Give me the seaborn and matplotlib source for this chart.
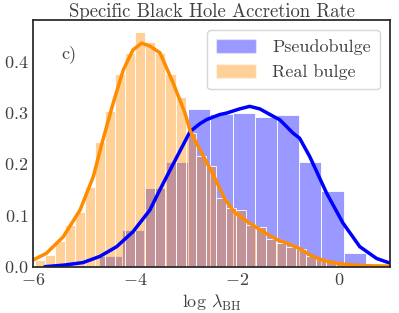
import numpy as np
import pandas as pd
import matplotlib
matplotlib.use("Agg")
import matplotlib.pyplot as plt
from matplotlib.patches import Patch
import seaborn as sns

# Histogram values (density)
pseudo_heights = [0.021, 0.072, 0.153, 0.203, 0.307, 0.297, 0.300, 0.291, 0.296, 0.203, 0.148, 0.027]
pseudo_range = (-4.70, 0.53)

real_heights = [0.013, 0.023, 0.049, 0.081, 0.107, 0.155, 0.243, 0.303, 0.374, 0.415,
                0.456, 0.437, 0.416, 0.374, 0.331, 0.260, 0.215, 0.196, 0.134, 0.114,
                0.110, 0.081, 0.077, 0.053, 0.046, 0.039, 0.034, 0.021, 0.014, 0.010,
                0.007, 0.003]
real_range = (-5.968, 0.346)

# KDE curves
pseudo_kde_x = [-5.77, -5.4, -5.02, -4.69, -4.36, -4.04, -3.71, -3.51, -3.25, -2.92, -2.73, -2.60,
                -2.34, -2.20, -1.95, -1.75, -1.55, -1.35, -1.16, -0.90, -0.77, -0.57, -0.24,
                0.08, 0.41, 0.74, 1.0]
pseudo_kde_y = [0.0, 0.003, 0.008, 0.020, 0.039, 0.068, 0.110, 0.150, 0.200, 0.263, 0.278, 0.286,
                0.296, 0.299, 0.307, 0.312, 0.307, 0.296, 0.286, 0.260, 0.250, 0.214, 0.143,
                0.085, 0.039, 0.016, 0.007]

real_kde_x = [-6.0, -5.74, -5.41, -5.08, -4.82, -4.63, -4.43, -4.23, -4.04, -3.87, -3.70, -3.51,
              -3.25, -3.02, -2.92, -2.73, -2.47, -2.24, -2.04, -1.77, -1.45, -1.2, -1.0, -0.77,
              -0.53, -0.33, -0.07, 0.19, 0.5, 1.0]
real_kde_y = [0.013, 0.026, 0.058, 0.110, 0.175, 0.247, 0.318, 0.383, 0.422, 0.435, 0.429, 0.416,
              0.357, 0.299, 0.265, 0.228, 0.180, 0.132, 0.105, 0.086, 0.066, 0.052, 0.045, 0.035,
              0.021, 0.013, 0.007, 0.004, 0.002, 0.001]

sns.set_style("white")
plt.rcParams['font.family'] = 'serif'
plt.rcParams['font.serif'] = ['cmr10']
plt.rcParams['mathtext.fontset'] = 'cm'
plt.rcParams['axes.formatter.use_mathtext'] = True

txt = '.25'

fig = plt.figure(figsize=(3.99, 3.13), dpi=100)
ax = fig.add_axes([0.083, 0.148, 0.894, 0.788])

pseudo_edges = np.linspace(pseudo_range[0], pseudo_range[1], len(pseudo_heights) + 1)
real_edges = np.linspace(real_range[0], real_range[1], len(real_heights) + 1)
pseudo_df = pd.DataFrame({"x": (pseudo_edges[:-1] + pseudo_edges[1:]) / 2, "w": pseudo_heights})
real_df = pd.DataFrame({"x": (real_edges[:-1] + real_edges[1:]) / 2, "w": real_heights})

sns.histplot(data=pseudo_df, x="x", weights="w", bins=list(pseudo_edges), color='blue',
             alpha=0.4, edgecolor='white', linewidth=0.6, ax=ax)
sns.histplot(data=real_df, x="x", weights="w", bins=list(real_edges), color='darkorange',
             alpha=0.4, edgecolor='white', linewidth=0.6, ax=ax)
sns.lineplot(x=pseudo_kde_x, y=pseudo_kde_y, color='blue', linewidth=2.5, sort=False, ax=ax)
sns.lineplot(x=real_kde_x, y=real_kde_y, color='darkorange', linewidth=2.5, sort=False, ax=ax)

ax.set_xlim(-6, 1)
ax.set_ylim(0, 0.48)
ax.set_xticks([-6, -4, -2, 0])
ax.set_yticks([0.0, 0.1, 0.2, 0.3, 0.4])
ax.tick_params(labelsize=13, colors=txt, length=0)
ax.set_ylabel("")
ax.set_xlabel(r"log $\lambda_{\rm BH}$", fontsize=13, color=txt)
ax.set_title("Specific Black Hole Accretion Rate", fontsize=13.5, color=txt, pad=2)
for s in ax.spines.values():
    s.set_color('.15')
    s.set_linewidth(1.25)

ax.text(0.08, 0.86, "c)", transform=ax.transAxes, fontsize=13, color=txt, va='center')

handles = [Patch(facecolor='blue', alpha=0.4, label='Pseudobulge'),
           Patch(facecolor='darkorange', alpha=0.4, label='Real bulge')]
leg = ax.legend(handles=handles, loc='upper right', fontsize=13, frameon=True,
                handlelength=2.2, handleheight=0.8, handletextpad=0.9, labelspacing=0.5,
                borderpad=0.5, borderaxespad=0.55)
for t in leg.get_texts():
    t.set_color(txt)

fig.savefig("out.png", dpi=100)
